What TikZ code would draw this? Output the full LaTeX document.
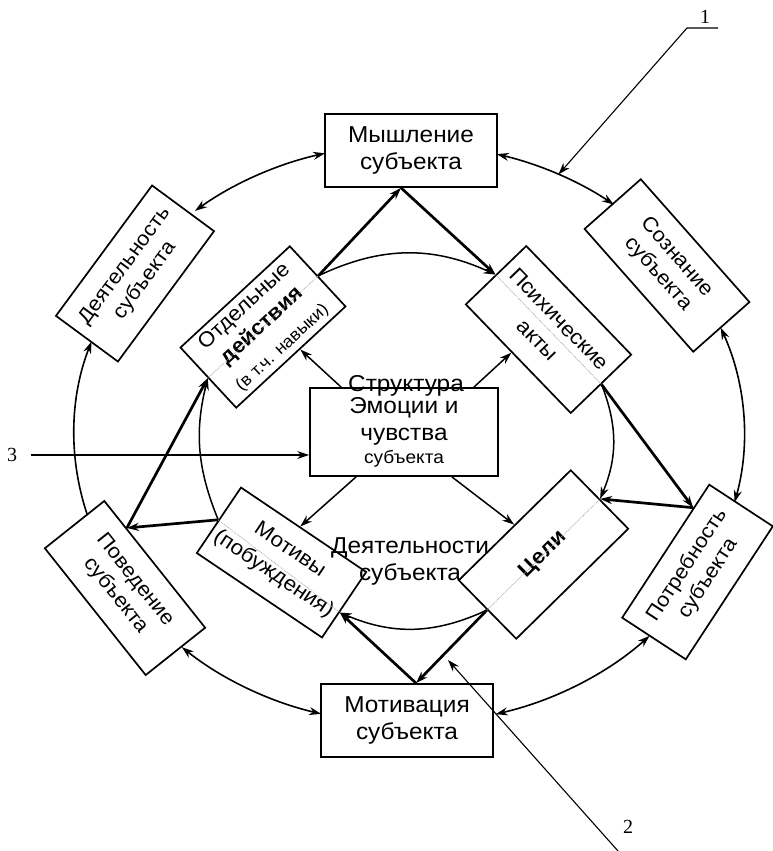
\documentclass[tikz,border=0pt]{standalone}
\usepackage{fontspec}
\setmainfont{Liberation Sans}[FakeStretch=1.06]
\newfontfamily\digitfont{Liberation Serif}
\usetikzlibrary{arrows.meta,calc}
\tikzset{
  box/.style={draw, line width=1.7pt, fill=white, align=center, inner sep=2pt, font=\fontsize{23}{27}\selectfont},
  rbox/.style={draw, line width=1.7pt, fill=white, align=center, inner sep=2pt, font=\fontsize{20.5}{25}\selectfont},
  tip/.style={-{Stealth[length=12pt,width=8pt]}},
  dtip/.style={{Stealth[length=12pt,width=8pt]}-{Stealth[length=12pt,width=8pt]}},
  ring/.style={line width=1.6pt},
  strong/.style={line width=2.7pt},
  slim/.style={line width=1.5pt},
  hidden/.style={gray!70, densely dotted, line width=0.8pt},
  leader/.style={line width=1.1pt},
  numlabel/.style={font=\digitfont\fontsize{20}{22}\selectfont, inner sep=0pt},
  plain/.style={font=\fontsize{23}{27}\selectfont, align=center, inner sep=0pt},
}
\begin{document}
\begin{tikzpicture}[x=1pt,y=1pt]
\useasboundingbox (0,0) rectangle (772,-851);
\coordinate (C) at (409,-434);
% outer boxes
\node[box, minimum width=172pt, minimum height=73pt] (myth) at (411,-150.5) {Мышление\\субъекта};
\node[box, minimum width=172pt, minimum height=73pt] (mtv) at (407,-720.5) {Мотивация\\субъекта};
\node[rbox, minimum width=162pt, minimum height=77pt, rotate=53.6] (deyat) at (135,-273.5) {Деятельность\\субъекта};
\node[rbox, minimum width=164pt, minimum height=75pt, rotate=-48.5] (soz) at (667,-265.5) {Сознание\\субъекта};
\node[rbox, minimum width=162pt, minimum height=76pt, rotate=-51.5] (pov) at (125,-588) {Поведение\\субъекта};
\node[rbox, minimum width=159pt, minimum height=76pt, rotate=56.8] (potr) at (697.5,-572) {Потребность\\субъекта};
% inner boxes
\node[rbox, minimum width=149pt, minimum height=82pt, rotate=42.8, font=\fontsize{21}{26}\selectfont] (otd) at (263,-327) {Отдельные\\\textbf{действия}\\[3pt]{\fontsize{17}{20}\selectfont(в т.ч. навыки)}};
\node[rbox, minimum width=151pt, minimum height=84pt, rotate=-46, font=\fontsize{21}{30}\selectfont] (psy) at (548.5,-329.5) {Психические\\акты};
\node[rbox, minimum width=151pt, minimum height=79pt, rotate=-34, font=\fontsize{21}{29}\selectfont] (mot) at (281.5,-562.5) {Мотивы\\(побуждения)};
\node[rbox, minimum width=157pt, minimum height=82pt, rotate=44.5, font=\fontsize{21}{26}\selectfont] (cel) at (543.5,-554.5) {\textbf{Цели}};
\node[box, minimum width=188pt, minimum height=88pt] (emo) at (404,-432) {Эмоции и\\чувства\\[-4pt]{\fontsize{18}{20}\selectfont субъекта}};

% outer ring arcs
\coordinate (a1) at ($(C)+(104.5:335pt and 290pt)$);
\draw[ring,dtip] (a1) arc[start angle=104.5, end angle=129.7, x radius=335pt, y radius=290pt];
\coordinate (a2) at ($(C)+(196.3:335pt and 290pt)$);
\draw[ring,tip] (a2) arc[start angle=196.3, end angle=161.4, x radius=335pt, y radius=290pt];
\coordinate (a3) at ($(C)+(227.3:335pt and 290pt)$);
\draw[ring,dtip] (a3) arc[start angle=227.3, end angle=254.8, x radius=335pt, y radius=290pt];
\coordinate (a4) at ($(C)+(285:335pt and 290pt)$);
\draw[ring,dtip] (a4) arc[start angle=285, end angle=315.9, x radius=335pt, y radius=290pt];
\coordinate (a5) at ($(C)+(346.4:335pt and 290pt)$);
\draw[ring,dtip] (a5) arc[start angle=346.4, end angle=381.5, x radius=335pt, y radius=290pt];
\coordinate (a6) at ($(C)+(52.3:335pt and 290pt)$);
\draw[ring,dtip] (a6) arc[start angle=52.3, end angle=74.8, x radius=335pt, y radius=290pt];

% inner ring arcs
\coordinate (motE) at ($(mot.east)!0.22!(mot.south east)$);
\draw[slim,tip] (otd.east) to[bend left=25] (psy.west);
\draw[slim,tip] (psy.east) to[bend left=22] (cel.east);
\draw[slim,tip] (cel.west) to[bend left=24] (motE);
\draw[slim,tip] (mot.west) to[bend left=18] (otd.west);

% strong links
\coordinate (mb) at ($(myth.south)+(-10,0)$);
\coordinate (pp) at ($(potr.north east)!0.18!(potr.north west)$);
\coordinate (mt) at ($(mtv.north)+(9,0)$);
\coordinate (pv) at ($(pov.north west)!0.22!(pov.north east)$);
\draw[strong,tip] (otd.east) -- (mb);
\draw[strong,tip] (mb) -- (psy.west);
\draw[strong,tip] (psy.east) -- (pp);
\draw[strong,tip] (pp) -- (cel.east);
\draw[strong,tip] (cel.west) -- (mt);
\draw[strong,tip] (mt) -- (motE);
\draw[strong,tip] (mot.west) -- (pv);
\draw[strong,tip] (pv) -- (otd.west);

% links from the centre
\draw[slim,tip] ($(emo.north west)+(32,0)$) -- ($(otd.south west)!0.58!(otd.south east)$);
\draw[slim,tip] ($(emo.north east)+(-25,0)$) -- ($(psy.south west)!0.44!(psy.south east)$);
\draw[slim,tip] ($(emo.south west)+(47,0)$) -- ($(mot.north west)!0.47!(mot.north east)$);
\draw[slim,tip] ($(emo.south east)+(-47,0)$) -- (cel.north);

% hidden ring traces inside inner boxes
\draw[hidden] (otd.west) -- (otd.east);
\draw[hidden] (psy.west) -- (psy.east);
\draw[hidden] (mot.west) -- (motE);
\draw[hidden] (cel.west) -- (cel.east);

% overlay texts
\node[plain, anchor=base] (str) at (406,-391) {Структура};
\node[plain] (dsub) at (410,-561) {Деятельности\\субъекта};

% leaders
\coordinate (r1) at ($(C)+(63.5:335pt and 290pt)$);
\node[numlabel] (n1) at (705,-17) {1};
\coordinate (u1) at (718,-28);
\coordinate (u0) at (687,-28);
\draw[leader,tip] (u1) -- (u0) -- (r1);
\node[numlabel] (n2) at (628,-827) {2};
\coordinate (l2) at (618,-851);
\coordinate (t2) at (448,-660);
\draw[leader,tip] (l2) -- (t2);
\node[numlabel] (n3) at (12,-455) {3};
\draw[leader,tip] ([xshift=14pt]n3.east) -- ([yshift=-23pt]emo.west);
\end{tikzpicture}
\end{document}
